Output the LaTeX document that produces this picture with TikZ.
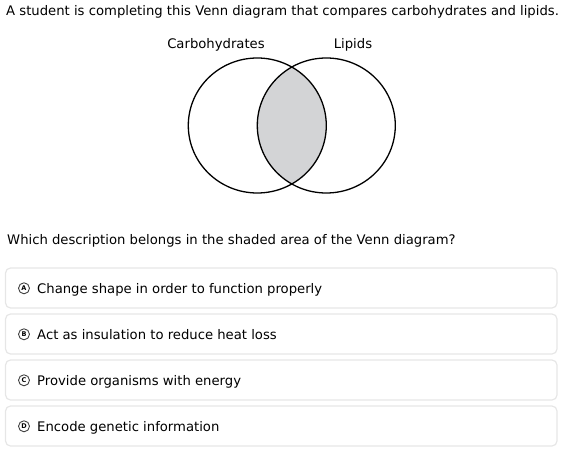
\documentclass[tikz,border=0pt]{standalone}
\usepackage{fontspec}
\setmainfont{DejaVu Sans}
\begin{document}
\begin{tikzpicture}[x=1pt,y=-1pt,font=\fontsize{13.2}{15}\selectfont]
\useasboundingbox (0,0) rectangle (564,454);
\pgfmathsetmacro\rx{69};
\pgfmathsetmacro\ry{67.5};
\definecolor{shadegray}{HTML}{D3D4D6}
\definecolor{boxline}{HTML}{E6E6E6}
\node[anchor=base west, inner sep=0] (title) at (6,15.5) {A student is completing this Venn diagram that compares carbohydrates and lipids.};
\node[anchor=base, inner sep=0] (carb) at (216,48.5) {Carbohydrates};
\node[anchor=base, inner sep=0] (lipids) at (353,48.5) {Lipids};
\begin{scope}
\clip (257.3,125.5) ellipse [x radius=\rx, y radius=\ry];
\fill[shadegray] (326.3,125.5) ellipse [x radius=\rx, y radius=\ry];
\end{scope}
\draw[line width=1.3] (257.3,125.5) ellipse [x radius=\rx, y radius=\ry];
\draw[line width=1.3] (326.3,125.5) ellipse [x radius=\rx, y radius=\ry];
\node[anchor=base west, inner sep=0] (question) at (7,244) {Which description belongs in the shaded area of the Venn diagram?};
\foreach \py/\ltr/\txt in {268/A/Change shape in order to function properly, 314/B/Act as insulation to reduce heat loss, 360/C/Provide organisms with energy, 406/D/Encode genetic information} {
  \draw[boxline, line width=1.2, rounded corners=5] (5.5,\py) rectangle (557,\py+40);
  \node[circle, draw=black!75, line width=0.9, minimum size=11, inner sep=0, font=\fontsize{6.5}{6.5}\selectfont\bfseries] (icon\ltr) at (24,\py+20.3) {\ltr};
  \node[anchor=base west, inner sep=0] (opt\ltr) at (37,\py+25) {\txt};
}
\end{tikzpicture}
\end{document}
